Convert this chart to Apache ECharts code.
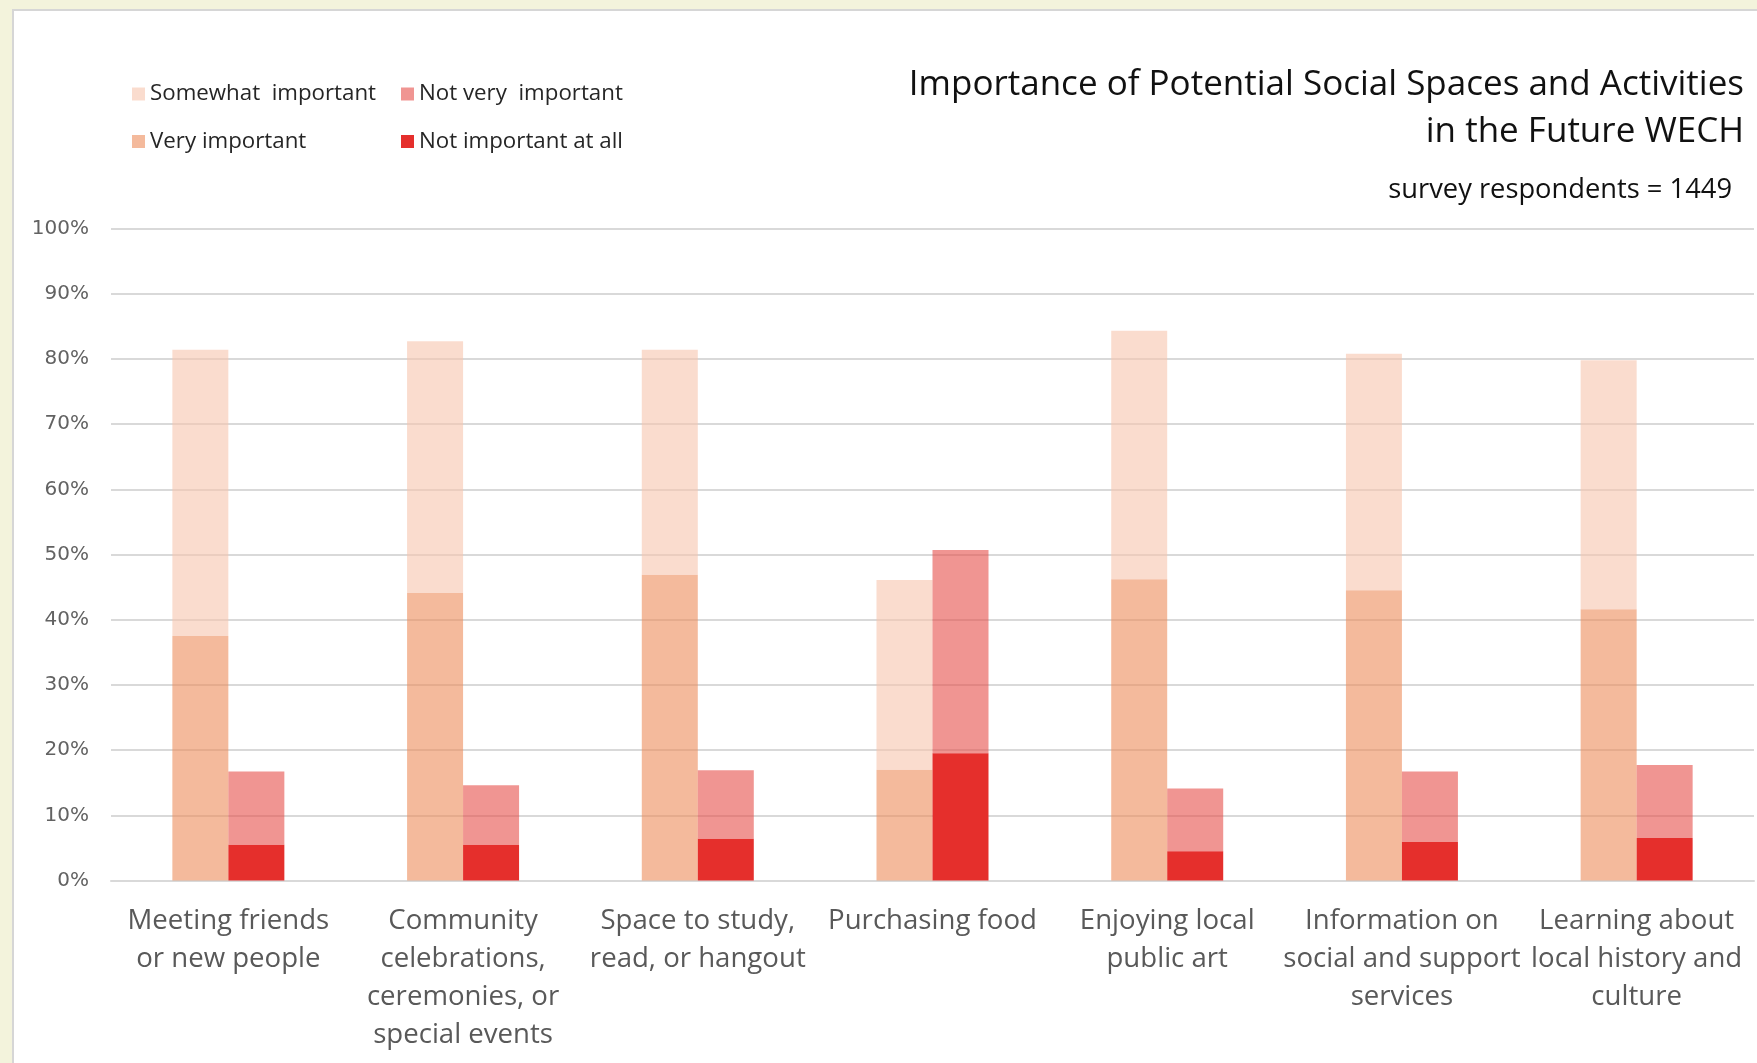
<!DOCTYPE html>
<html>
<head>
<meta charset="utf-8">
<script src="https://cdn.jsdelivr.net/npm/echarts@6/dist/echarts.min.js"></script>
<style>
  html, body { margin: 0; padding: 0; width: 1757px; height: 1063px; overflow: hidden; background: #F3F3DC; }
  #panel { position: absolute; left: 12px; top: 9px; width: 1760px; height: 1070px; background: #ffffff; border-left: 2px solid #D6D6D6; border-top: 2px solid #D6D6D6; }
  #chart { position: absolute; left: 0; top: 0; width: 1757px; height: 1063px; }
</style>
</head>
<body>
<div id="panel"></div>
<div id="chart"></div>
<script>
const categories = [
  "Meeting friends\nor new people",
  "Community\ncelebrations,\nceremonies, or\nspecial events",
  "Space to study,\nread, or hangout",
  "Purchasing food",
  "Enjoying local\npublic art",
  "Information on\nsocial and support\nservices",
  "Learning about\nlocal history and\nculture"
];
const yTicks = [0, 10, 20, 30, 40, 50, 60, 70, 80, 90, 100];
const veryImportant     = [37.5, 44.1, 46.9, 17.0, 46.2, 44.5, 41.6];
const somewhatImportant = [43.9, 38.6, 34.5, 29.1, 38.1, 36.3, 38.2];
const notImportantAtAll = [5.5, 5.5, 6.4, 19.5, 4.5, 5.9, 6.5];
const notVeryImportant  = [11.2, 9.1, 10.5, 31.2, 9.6, 10.8, 11.2];

const titleText = "Importance of Potential Social Spaces and Activities\nin the Future WECH";
const subtitleText = "survey respondents = 1449";

const FONT = "'Open Sans', 'Noto Sans', sans-serif";

const chart = echarts.init(document.getElementById('chart'), null, { renderer: 'canvas' });

const option = {
  backgroundColor: 'transparent',
  animation: false,
  title: [
    {
      text: titleText,
      left: 1739,
      top: 57,
      textAlign: 'right',
      textStyle: { fontFamily: FONT, fontSize: 35, fontWeight: 'normal', color: '#111111', lineHeight: 47, align: 'right' }
    },
    {
      text: subtitleText,
      right: 20,
      top: 168,
      textStyle: { fontFamily: FONT, fontSize: 27.3, fontWeight: 'normal', color: '#111111', lineHeight: 34 }
    }
  ],
  legend: [
    {
      orient: 'vertical',
      left: 127,
      top: 78,
      itemWidth: 13,
      itemHeight: 13,
      itemGap: 25.5,
      icon: 'rect',
      data: ['Somewhat  important', 'Very important'],
      textStyle: { fontFamily: FONT, fontSize: 22.3, color: '#262626', lineHeight: 22 }
    },
    {
      orient: 'vertical',
      left: 396,
      top: 78,
      itemWidth: 13,
      itemHeight: 13,
      itemGap: 25.5,
      icon: 'rect',
      data: ['Not very  important', 'Not important at all'],
      textStyle: { fontFamily: FONT, fontSize: 22.3, color: '#262626', lineHeight: 22 }
    }
  ],
  grid: { left: 111, right: 3, top: 228.5, bottom: 182.5, containLabel: false },
  xAxis: {
    type: 'category',
    data: categories,
    axisLine: { show: true, lineStyle: { color: '#D9D9D9', width: 2 } },
    axisTick: { show: false },
    axisLabel: {
      interval: 0,
      margin: 22,
      fontFamily: FONT,
      fontSize: 27.6,
      lineHeight: 38,
      color: '#595959',
      align: 'center'
    }
  },
  yAxis: {
    type: 'value',
    min: yTicks[0],
    max: yTicks[yTicks.length - 1],
    interval: 10,
    axisLine: { show: false },
    axisTick: { show: false },
    splitLine: { show: true, lineStyle: { color: '#D9D9D9', width: 2 } },
    axisLabel: {
      margin: 22,
      fontFamily: "'DejaVu Sans', sans-serif",
      fontSize: 20,
      color: '#626262',
      formatter: '{value}%'
    }
  },
  series: [
    {
      name: 'Very important',
      type: 'bar',
      stack: 'important',
      barWidth: 56,
      barGap: '0%',
      data: veryImportant,
      itemStyle: { color: 'rgba(237,140,90,0.6)' }
    },
    {
      name: 'Somewhat  important',
      type: 'bar',
      stack: 'important',
      barWidth: 56,
      barGap: '0%',
      data: somewhatImportant,
      itemStyle: { color: 'rgba(247,197,173,0.6)' }
    },
    {
      name: 'Not important at all',
      type: 'bar',
      stack: 'notImportant',
      barWidth: 56,
      barGap: '0%',
      data: notImportantAtAll,
      itemStyle: { color: '#E52F2C' }
    },
    {
      name: 'Not very  important',
      type: 'bar',
      stack: 'notImportant',
      barWidth: 56,
      barGap: '0%',
      data: notVeryImportant,
      itemStyle: { color: 'rgba(230,78,73,0.6)' }
    }
  ]
};
chart.setOption(option);
</script>
</body>
</html>
